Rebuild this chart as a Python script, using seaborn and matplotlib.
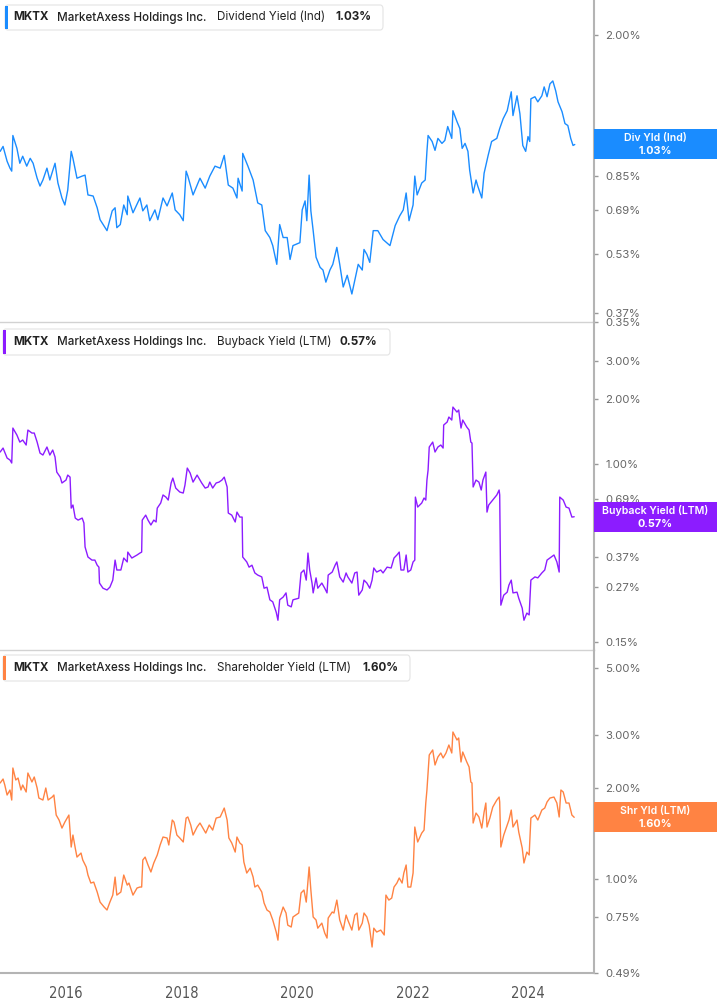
import numpy as np
import pandas as pd
import matplotlib
matplotlib.use("Agg")
import matplotlib.pyplot as plt
from matplotlib.patches import FancyBboxPatch, Rectangle
from matplotlib.ticker import NullLocator, FixedLocator
import seaborn as sns

sns.set_theme(style="white")
plt.rcParams['font.family'] = ['Inter', 'DejaVu Sans']

# ---- data (decimal year, yield in %) ----
div_years = [2014.86, 2014.91, 2014.98, 2015.03, 2015.06, 2015.08, 2015.15, 2015.20, 2015.25, 2015.32,
             2015.38, 2015.43, 2015.50, 2015.55, 2015.60, 2015.67, 2015.72, 2015.81, 2015.86, 2015.93,
             2015.98, 2016.03, 2016.09, 2016.12, 2016.19, 2016.28, 2016.33, 2016.38, 2016.47, 2016.54,
             2016.59, 2016.71, 2016.80, 2016.85, 2016.88, 2016.94, 2017.00, 2017.06, 2017.07, 2017.16,
             2017.28, 2017.33, 2017.40, 2017.45, 2017.54, 2017.59, 2017.68, 2017.75, 2017.84, 2017.89,
             2017.97, 2018.03, 2018.08, 2018.11, 2018.20, 2018.32, 2018.41, 2018.49, 2018.58, 2018.67,
             2018.74, 2018.81, 2018.89, 2018.96, 2018.98, 2019.05, 2019.06, 2019.15, 2019.24, 2019.32,
             2019.39, 2019.45, 2019.53, 2019.58, 2019.65, 2019.70, 2019.76, 2019.83, 2019.88, 2019.93,
             2020.05, 2020.09, 2020.14, 2020.17, 2020.21, 2020.24, 2020.28, 2020.33, 2020.40, 2020.45,
             2020.50, 2020.57, 2020.62, 2020.69, 2020.74, 2020.80, 2020.87, 2020.95, 2021.00, 2021.06,
             2021.13, 2021.16, 2021.21, 2021.26, 2021.32, 2021.40, 2021.49, 2021.61, 2021.70, 2021.78,
             2021.84, 2021.89, 2021.94, 2022.01, 2022.04, 2022.08, 2022.16, 2022.22, 2022.25, 2022.27,
             2022.34, 2022.39, 2022.44, 2022.51, 2022.56, 2022.61, 2022.68, 2022.70, 2022.77, 2022.82,
             2022.86, 2022.91, 2022.96, 2022.99, 2023.05, 2023.10, 2023.13, 2023.20, 2023.24, 2023.31,
             2023.37, 2023.46, 2023.51, 2023.57, 2023.64, 2023.71, 2023.74, 2023.81, 2023.86, 2023.91,
             2023.96, 2024.00, 2024.03, 2024.05, 2024.12, 2024.17, 2024.24, 2024.28, 2024.33, 2024.38,
             2024.43, 2024.48, 2024.52, 2024.59, 2024.64, 2024.69, 2024.74, 2024.78, 2024.81]
div_vals = [0.988, 1.018, 0.930, 0.892, 0.876, 1.088, 1.006, 0.919, 0.959, 0.903,
            0.947, 0.919, 0.839, 0.800, 0.830, 0.892, 0.830, 0.919, 0.815, 0.744,
            0.713, 0.781, 0.988, 0.947, 0.839, 0.850, 0.855, 0.758, 0.753, 0.701,
            0.652, 0.610, 0.688, 0.701, 0.621, 0.633, 0.713, 0.672, 0.753, 0.680,
            0.744, 0.688, 0.713, 0.648, 0.692, 0.652, 0.744, 0.709, 0.767, 0.692,
            0.672, 0.648, 0.876, 0.850, 0.758, 0.839, 0.790, 0.850, 0.903, 0.892,
            0.964, 0.805, 0.790, 0.744, 0.839, 0.776, 0.976, 0.903, 0.830, 0.722,
            0.713, 0.610, 0.585, 0.557, 0.497, 0.633, 0.585, 0.585, 0.512, 0.557,
            0.567, 0.692, 0.731, 0.648, 0.855, 0.688, 0.610, 0.519, 0.488, 0.480,
            0.446, 0.480, 0.497, 0.551, 0.497, 0.433, 0.465, 0.415, 0.451, 0.497,
            0.480, 0.544, 0.528, 0.503, 0.610, 0.610, 0.578, 0.557, 0.629, 0.668,
            0.692, 0.767, 0.648, 0.713, 0.850, 0.758, 0.815, 0.830, 0.988, 1.088,
            1.049, 0.994, 1.069, 1.037, 1.056, 1.149, 1.069, 1.265, 1.184, 1.135,
            1.006, 1.037, 0.988, 0.881, 0.767, 0.830, 0.800, 0.744, 0.865, 0.964,
            1.049, 1.069, 1.135, 1.205, 1.265, 1.419, 1.228, 1.385, 1.242, 1.024,
            0.988, 1.081, 1.049, 1.360, 1.377, 1.335, 1.385, 1.462, 1.377, 1.489,
            1.516, 1.427, 1.335, 1.257, 1.170, 1.156, 1.069, 1.024, 1.030]

bb_years = [2014.86, 2014.91, 2014.98, 2015.03, 2015.06, 2015.08, 2015.15, 2015.20, 2015.25, 2015.31,
            2015.34, 2015.41, 2015.45, 2015.50, 2015.55, 2015.60, 2015.67, 2015.72, 2015.77, 2015.81,
            2015.84, 2015.90, 2015.93, 2016.00, 2016.03, 2016.07, 2016.09, 2016.12, 2016.16, 2016.21,
            2016.28, 2016.31, 2016.33, 2016.38, 2016.45, 2016.50, 2016.54, 2016.57, 2016.58, 2016.64,
            2016.71, 2016.76, 2016.81, 2016.85, 2016.88, 2016.95, 2017.00, 2017.06, 2017.07, 2017.14,
            2017.23, 2017.28, 2017.31, 2017.32, 2017.38, 2017.42, 2017.47, 2017.52, 2017.56, 2017.58,
            2017.64, 2017.68, 2017.73, 2017.77, 2017.82, 2017.85, 2017.90, 2017.97, 2018.03, 2018.06,
            2018.10, 2018.15, 2018.20, 2018.27, 2018.35, 2018.41, 2018.46, 2018.49, 2018.54, 2018.60,
            2018.65, 2018.70, 2018.74, 2018.79, 2018.81, 2018.87, 2018.93, 2018.96, 2019.01, 2019.05,
            2019.06, 2019.13, 2019.17, 2019.22, 2019.27, 2019.32, 2019.39, 2019.43, 2019.48, 2019.53,
            2019.58, 2019.64, 2019.67, 2019.70, 2019.76, 2019.81, 2019.84, 2019.90, 2019.93, 2020.03,
            2020.07, 2020.12, 2020.16, 2020.19, 2020.22, 2020.26, 2020.28, 2020.33, 2020.36, 2020.43,
            2020.48, 2020.52, 2020.54, 2020.61, 2020.66, 2020.69, 2020.74, 2020.80, 2020.85, 2020.88,
            2020.95, 2021.00, 2021.04, 2021.07, 2021.13, 2021.16, 2021.21, 2021.26, 2021.30, 2021.33,
            2021.38, 2021.45, 2021.49, 2021.56, 2021.63, 2021.68, 2021.73, 2021.77, 2021.80, 2021.85,
            2021.89, 2021.92, 2021.97, 2022.01, 2022.04, 2022.05, 2022.09, 2022.16, 2022.20, 2022.23,
            2022.25, 2022.27, 2022.29, 2022.35, 2022.39, 2022.44, 2022.49, 2022.53, 2022.54, 2022.60,
            2022.63, 2022.68, 2022.70, 2022.77, 2022.80, 2022.84, 2022.87, 2022.94, 2022.98, 2023.01,
            2023.03, 2023.05, 2023.10, 2023.15, 2023.19, 2023.22, 2023.27, 2023.29, 2023.32, 2023.39,
            2023.46, 2023.50, 2023.51, 2023.53, 2023.58, 2023.64, 2023.67, 2023.71, 2023.74, 2023.81,
            2023.84, 2023.90, 2023.93, 2023.98, 2024.02, 2024.05, 2024.12, 2024.17, 2024.24, 2024.29,
            2024.33, 2024.38, 2024.45, 2024.50, 2024.54, 2024.55, 2024.61, 2024.66, 2024.71, 2024.76,
            2024.80]
bb_vals = [1.137, 1.186, 1.066, 1.044, 1.011, 1.468, 1.362, 1.264, 1.292, 1.225,
           1.437, 1.392, 1.392, 1.264, 1.124, 1.101, 1.199, 1.101, 1.161, 1.078,
           0.918, 0.870, 0.817, 0.843, 0.889, 0.870, 0.625, 0.646, 0.562, 0.550,
           0.562, 0.533, 0.413, 0.371, 0.359, 0.359, 0.340, 0.333, 0.281, 0.266,
           0.261, 0.269, 0.290, 0.359, 0.323, 0.323, 0.367, 0.352, 0.391, 0.367,
           0.379, 0.387, 0.391, 0.550, 0.580, 0.550, 0.522, 0.550, 0.539, 0.625,
           0.660, 0.719, 0.703, 0.681, 0.817, 0.861, 0.774, 0.742, 0.734, 0.799,
           0.958, 0.908, 0.825, 0.889, 0.817, 0.774, 0.783, 0.825, 0.774, 0.817,
           0.825, 0.843, 0.870, 0.783, 0.593, 0.580, 0.539, 0.599, 0.568, 0.568,
           0.371, 0.352, 0.333, 0.340, 0.313, 0.306, 0.300, 0.266, 0.269, 0.235,
           0.230, 0.206, 0.189, 0.235, 0.242, 0.253, 0.222, 0.218, 0.235, 0.239,
           0.313, 0.323, 0.290, 0.387, 0.323, 0.281, 0.253, 0.297, 0.266, 0.281,
           0.266, 0.253, 0.306, 0.316, 0.340, 0.352, 0.300, 0.284, 0.313, 0.300,
           0.281, 0.313, 0.316, 0.247, 0.261, 0.290, 0.281, 0.266, 0.290, 0.330,
           0.316, 0.323, 0.313, 0.333, 0.330, 0.367, 0.379, 0.391, 0.323, 0.323,
           0.379, 0.316, 0.323, 0.352, 0.359, 0.703, 0.632, 0.660, 0.696, 0.681,
           0.843, 0.938, 1.199, 1.264, 1.137, 1.199, 1.225, 1.186, 1.516, 1.565,
           1.651, 1.599, 1.836, 1.741, 1.779, 1.468, 1.599, 1.484, 1.437, 1.264,
           1.251, 0.783, 0.843, 0.825, 0.758, 0.843, 0.918, 0.599, 0.646, 0.681,
           0.719, 0.758, 0.719, 0.222, 0.247, 0.255, 0.275, 0.290, 0.253, 0.255,
           0.239, 0.215, 0.189, 0.204, 0.200, 0.290, 0.300, 0.297, 0.313, 0.323,
           0.359, 0.367, 0.379, 0.352, 0.316, 0.703, 0.681, 0.632, 0.625, 0.568,
           0.570]

shr_years = [2014.86, 2014.91, 2014.94, 2014.98, 2015.03, 2015.06, 2015.08, 2015.13, 2015.17, 2015.22,
             2015.25, 2015.31, 2015.34, 2015.41, 2015.45, 2015.50, 2015.53, 2015.60, 2015.65, 2015.69,
             2015.76, 2015.79, 2015.83, 2015.88, 2015.93, 2015.98, 2016.05, 2016.09, 2016.12, 2016.16,
             2016.19, 2016.26, 2016.29, 2016.35, 2016.38, 2016.43, 2016.48, 2016.54, 2016.59, 2016.66,
             2016.71, 2016.76, 2016.81, 2016.85, 2016.88, 2016.95, 2017.00, 2017.06, 2017.09, 2017.16,
             2017.23, 2017.28, 2017.31, 2017.33, 2017.37, 2017.42, 2017.47, 2017.52, 2017.58, 2017.63,
             2017.68, 2017.75, 2017.78, 2017.84, 2017.87, 2017.92, 2017.97, 2018.03, 2018.08, 2018.11,
             2018.16, 2018.20, 2018.27, 2018.32, 2018.37, 2018.42, 2018.48, 2018.54, 2018.60, 2018.67,
             2018.74, 2018.79, 2018.82, 2018.87, 2018.93, 2018.96, 2019.01, 2019.05, 2019.08, 2019.13,
             2019.19, 2019.24, 2019.27, 2019.32, 2019.39, 2019.43, 2019.48, 2019.53, 2019.58, 2019.64,
             2019.67, 2019.70, 2019.76, 2019.81, 2019.84, 2019.90, 2019.93, 2020.03, 2020.07, 2020.12,
             2020.16, 2020.21, 2020.24, 2020.28, 2020.33, 2020.36, 2020.43, 2020.48, 2020.52, 2020.54,
             2020.61, 2020.64, 2020.69, 2020.74, 2020.80, 2020.85, 2020.88, 2020.95, 2021.00, 2021.04,
             2021.07, 2021.13, 2021.16, 2021.21, 2021.25, 2021.30, 2021.33, 2021.38, 2021.45, 2021.51,
             2021.54, 2021.59, 2021.64, 2021.68, 2021.73, 2021.77, 2021.82, 2021.85, 2021.89, 2021.92,
             2021.97, 2022.01, 2022.04, 2022.09, 2022.16, 2022.20, 2022.23, 2022.25, 2022.29, 2022.35,
             2022.39, 2022.44, 2022.49, 2022.53, 2022.58, 2022.63, 2022.68, 2022.70, 2022.77, 2022.80,
             2022.84, 2022.87, 2022.94, 2022.98, 2023.01, 2023.03, 2023.05, 2023.10, 2023.15, 2023.20,
             2023.24, 2023.27, 2023.29, 2023.34, 2023.39, 2023.46, 2023.50, 2023.51, 2023.53, 2023.58,
             2023.64, 2023.67, 2023.71, 2023.74, 2023.81, 2023.84, 2023.90, 2023.93, 2023.98, 2024.02,
             2024.05, 2024.12, 2024.17, 2024.24, 2024.29, 2024.33, 2024.38, 2024.45, 2024.50, 2024.54,
             2024.57, 2024.61, 2024.66, 2024.71, 2024.76, 2024.80]
shr_vals = [2.078, 2.142, 2.046, 1.896, 1.970, 1.825, 2.329, 2.126, 2.158, 1.970,
            2.046, 1.940, 2.242, 2.094, 2.175, 2.000, 1.853, 1.825, 2.000, 1.825,
            1.867, 1.896, 1.628, 1.567, 1.474, 1.543, 1.628, 1.276, 1.398, 1.266,
            1.182, 1.219, 1.156, 1.096, 1.031, 0.970, 0.977, 0.906, 0.839, 0.808,
            0.790, 0.839, 0.885, 1.015, 0.885, 0.906, 1.031, 0.955, 0.970, 0.885,
            0.934, 0.941, 0.941, 1.156, 1.182, 1.113, 1.055, 1.130, 1.201, 1.296,
            1.377, 1.367, 1.296, 1.567, 1.543, 1.398, 1.367, 1.326, 1.591, 1.604,
            1.509, 1.398, 1.486, 1.532, 1.474, 1.419, 1.509, 1.452, 1.591, 1.604,
            1.717, 1.567, 1.367, 1.316, 1.228, 1.377, 1.316, 1.296, 1.138, 1.047,
            1.087, 1.015, 0.941, 0.955, 0.906, 0.833, 0.790, 0.778, 0.732, 0.668,
            0.628, 0.743, 0.808, 0.772, 0.704, 0.694, 0.749, 0.772, 0.899, 0.920,
            0.839, 1.096, 0.920, 0.749, 0.732, 0.688, 0.715, 0.663, 0.638, 0.743,
            0.778, 0.772, 0.852, 0.732, 0.678, 0.760, 0.732, 0.678, 0.760, 0.772,
            0.678, 0.715, 0.772, 0.749, 0.704, 0.596, 0.688, 0.668, 0.678, 0.653,
            0.885, 0.852, 0.865, 0.941, 0.970, 1.008, 0.970, 1.047, 1.113, 0.941,
            0.941, 1.047, 1.486, 1.326, 1.419, 1.452, 1.784, 1.970, 2.572, 2.672,
            2.383, 2.533, 2.611, 2.514, 2.611, 2.775, 2.611, 3.064, 2.883, 2.927,
            2.438, 2.631, 2.438, 2.347, 2.094, 2.078, 1.532, 1.653, 1.604, 1.474,
            1.666, 1.784, 1.486, 1.591, 1.730, 1.825, 1.867, 1.798, 1.276, 1.398,
            1.509, 1.567, 1.691, 1.486, 1.567, 1.430, 1.266, 1.130, 1.228, 1.201,
            1.591, 1.628, 1.567, 1.691, 1.717, 1.798, 1.853, 1.867, 1.784, 1.604,
            1.970, 1.940, 1.784, 1.784, 1.628, 1.600]

year_ticks = [2016, 2018, 2020, 2022, 2024]
div_ticks = [2.00, 1.00, 0.85, 0.69, 0.53, 0.37, 0.35]
bb_ticks = [3.00, 2.00, 1.00, 0.69, 0.37, 0.27, 0.15]
shr_ticks = [5.00, 3.00, 2.00, 1.00, 0.75, 0.49]

W, H = 717, 1005
AX_RIGHT = 594
X0, X1 = 2014.857, 2025.143

panels = [
    dict(years=div_years, vals=div_vals, ticks=div_ticks, ylim=(0.35, 2.48), rows=(0, 322),
         color="#1a8cff", metric="Dividend Yield (Ind)", val_x=335, box=(5, 5, 383, 30),
         badge="Div Yld (Ind)"),
    dict(years=bb_years, vals=bb_vals, ticks=bb_ticks, ylim=(0.1376, 4.55), rows=(322, 650),
         color="#8c1cff", metric="Buyback Yield (LTM)", val_x=340, box=(3, 329, 390, 355),
         badge="Buyback Yield (LTM)"),
    dict(years=shr_years, vals=shr_vals, ticks=shr_ticks, ylim=(0.489, 5.72), rows=(650, 973),
         color="#ff8343", metric="Shareholder Yield (LTM)", val_x=362, box=(3, 655, 410, 681),
         badge="Shr Yld (LTM)"),
]

fig = plt.figure(figsize=(W / 100, H / 100), dpi=100)


def fx(px):
    return px / W


def fy(py):
    return 1 - py / H


for i, p in enumerate(panels):
    top, bot = p["rows"]
    ax = fig.add_axes([0, fy(bot), fx(AX_RIGHT), (bot - top) / H])
    df = pd.DataFrame({"year": p["years"], "yield": p["vals"]})
    sns.lineplot(data=df, x="year", y="yield", ax=ax, color=p["color"], linewidth=1.0,
                 estimator=None, sort=False)
    ax.set_yscale("log")
    ax.set_ylim(*p["ylim"])
    ax.set_xlim(X0, X1)
    ax.yaxis.set_minor_locator(NullLocator())
    ax.yaxis.set_major_locator(FixedLocator(p["ticks"]))
    ax.set_yticklabels([f"{t:.2f}%" for t in p["ticks"]])
    ax.yaxis.tick_right()
    ax.tick_params(axis="y", direction="out", length=3, width=1, color="#999999",
                   labelcolor="#666666", labelsize=8.2, pad=5)
    ax.set_xlabel("")
    ax.set_ylabel("")
    for s in ["left", "top"]:
        ax.spines[s].set_visible(False)
    ax.spines["right"].set_color("#b4b4b4")
    ax.spines["right"].set_linewidth(1.5)
    if i < 2:
        ax.spines["bottom"].set_color("#d2d2d2")
        ax.spines["bottom"].set_linewidth(1.0)
        ax.set_xticks([])
    else:
        ax.spines["bottom"].set_color("#b4b4b4")
        ax.spines["bottom"].set_linewidth(1.5)
        ax.set_xticks(year_ticks)
        ax.set_xticklabels([str(y) for y in year_ticks], fontfamily="DejaVu Sans",
                           fontstretch="condensed")
        ax.tick_params(axis="x", direction="out", length=4, width=1, color="#999999",
                       labelcolor="#555555", labelsize=10.5, pad=5)
    ax.grid(False)
    ax.set_facecolor("none")

    # legend box at top left
    bx0, by0, bx1, by1 = p["box"]
    fig.patches.append(FancyBboxPatch((fx(bx0), fy(by1)), fx(bx1 - bx0), (by1 - by0) / H,
                                      boxstyle="round,pad=0,rounding_size=0.004",
                                      transform=fig.transFigure, facecolor="white",
                                      edgecolor="#e4e4e4", linewidth=0.8, zorder=5))
    fig.patches.append(Rectangle((fx(bx0), fy(by1 - 1)), fx(3), (by1 - by0 - 2) / H,
                                 transform=fig.transFigure, facecolor=p["color"],
                                 edgecolor="none", zorder=6))
    ty = fy((by0 + by1) / 2)
    kw = dict(va="center", ha="left", fontsize=8.4, color="#222222", zorder=7)
    fig.text(fx(13), ty, "MKTX", fontweight="bold", **kw)
    fig.text(fx(57), ty, "MarketAxess Holdings Inc.", fontweight="medium", **kw)
    fig.text(fx(217), ty, p["metric"], **kw)
    fig.text(fx(p["val_x"]), ty, f"{p['vals'][-1]:.2f}%", fontweight="bold", **kw)

    # value badge on the right axis
    fig.canvas.draw()
    yd = ax.transData.transform((p["years"][-1], p["vals"][-1]))[1]
    fig.patches.append(Rectangle((fx(AX_RIGHT), (yd - 15) / H), fx(W - AX_RIGHT), 30 / H,
                                 transform=fig.transFigure, facecolor=p["color"],
                                 edgecolor="none", zorder=8))
    cx = fx((AX_RIGHT + W) / 2)
    fig.text(cx, (yd + 6) / H, p["badge"], ha="center", va="center", fontsize=7.6,
             color="white", fontweight="semibold", zorder=9)
    fig.text(cx, (yd - 7) / H, f"{p['vals'][-1]:.2f}%", ha="center", va="center",
             fontsize=7.8, color="white", fontweight="bold", zorder=9)

fig.savefig("out.png", dpi=100)
